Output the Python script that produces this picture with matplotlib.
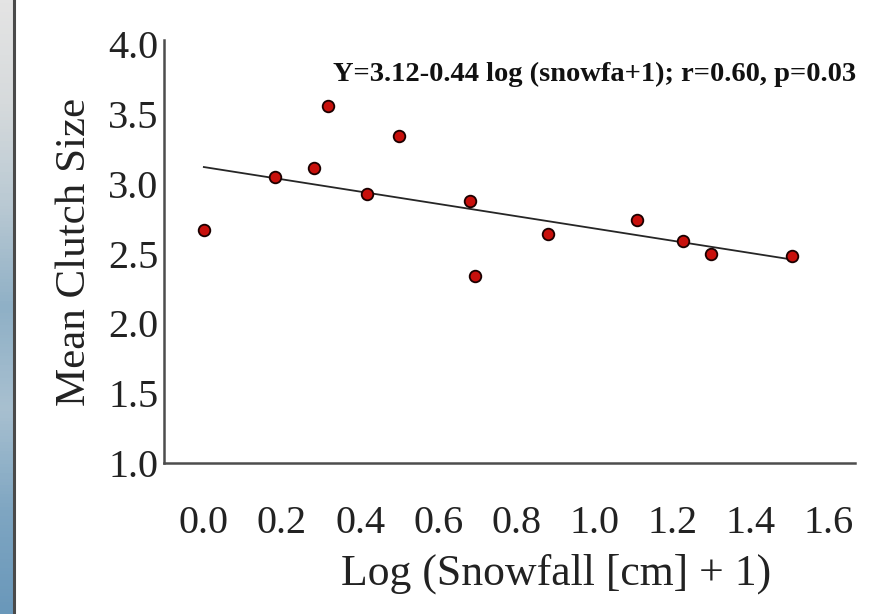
"""Mean clutch size against log-transformed snowfall, with the fitted regression line."""
import numpy as np
import matplotlib
matplotlib.use("Agg")
import matplotlib.pyplot as plt
from matplotlib.colors import LinearSegmentedColormap

# log(snowfall + 1) and mean clutch size per site
log_snow = [0.0, 0.182, 0.282, 0.317, 0.417, 0.499, 0.681, 0.694, 0.881, 1.109, 1.226, 1.298, 1.505]
clutch = [2.67, 3.05, 3.11, 3.56, 2.93, 3.34, 2.88, 2.34, 2.64, 2.74, 2.59, 2.50, 2.48]

# regression: Y = a + b * log(snowfall + 1)
intercept = 3.12
slope = -0.44
eq_label = "Y=3.12-0.44 log (snowfa+1); r=0.60, p=0.03"

x_ticks = [0.0, 0.2, 0.4, 0.6, 0.8, 1.0, 1.2, 1.4, 1.6]
y_ticks = [1.0, 1.5, 2.0, 2.5, 3.0, 3.5, 4.0]

SERIF = ["Liberation Serif", "DejaVu Serif"]

fig = plt.figure(figsize=(8.73, 6.14), dpi=100)
fig.patch.set_facecolor("white")

# strip of the background on the far left edge
strip = fig.add_axes([0, 0, 13 / 873, 1])
cmap = LinearSegmentedColormap.from_list(
    "edge", ["#e4e4e4", "#d6dadc", "#b9c9d3", "#8fb0c6", "#a8c0d0", "#7fa6c2", "#6a98ba"])
strip.imshow(np.linspace(0, 1, 200).reshape(-1, 1), aspect="auto", cmap=cmap,
             extent=[0, 1, 0, 1], origin="upper")
strip.set_axis_off()
fig.add_artist(plt.Line2D([14 / 873, 14 / 873], [0, 1], color="#4a4a4a", lw=2.2,
                          transform=fig.transFigure))

ax = fig.add_axes([164 / 873, 1 - 463 / 614, (855 - 164) / 873, (463 - 40) / 614])

ax.scatter(log_snow, clutch, s=70, facecolor="#c8100c", edgecolor="#1a0000",
           linewidth=1.3, zorder=3)

fit_x = np.array([min(log_snow), max(log_snow)])
ax.plot(fit_x, intercept + slope * fit_x, color="#262626", lw=1.3, zorder=2)

ax.text(0.33, 3.785, eq_label, family=SERIF, fontweight="bold", fontsize=20.5,
        ha="left", va="center", color="#111111")

ax.set_xlim(-0.102, 1.667)
ax.set_ylim(1.0, 4.03)
ax.set_xticks(x_ticks)
ax.set_xticklabels([f"{v:.1f}" for v in x_ticks])
ax.set_yticks(y_ticks)
ax.set_yticklabels([f"{v:.1f}" for v in y_ticks])
ax.tick_params(length=0, labelsize=29, colors="#222222", pad=4)
ax.tick_params(axis="x", pad=30)
for lab in ax.get_xticklabels() + ax.get_yticklabels():
    lab.set_family(SERIF)

for side in ("top", "right"):
    ax.spines[side].set_visible(False)
for side in ("left", "bottom"):
    ax.spines[side].set_color("#4d4d4d")
    ax.spines[side].set_linewidth(1.8)

ax.set_xlabel("Log (Snowfall [cm] + 1)", family=SERIF, fontsize=31.5, color="#222222",
              labelpad=6)
ax.xaxis.set_label_coords(0.567, -0.214)
ax.set_ylabel("Mean Clutch Size", family=SERIF, fontsize=31, color="#222222",
              labelpad=10)

fig.savefig("out.png", dpi=100)
